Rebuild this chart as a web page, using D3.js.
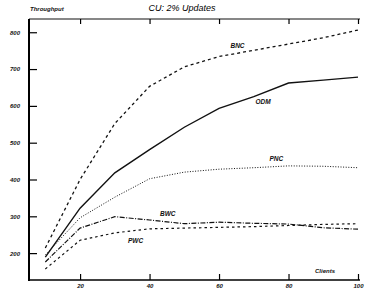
<!DOCTYPE html>
<html>
<head>
<meta charset="utf-8">
<script src="https://cdn.jsdelivr.net/npm/d3@7"></script>
<style>
  body { margin: 0; background: #fff; }
  svg { display: block; font-family: "Liberation Sans", Arial, sans-serif; }
  .tick text { font-size: 6px; font-weight: bold; font-style: italic; fill: #111; }
  .lbl { font-size: 6.5px; font-weight: bold; font-style: italic; fill: #111; }
</style>
</head>
<body>
<div class="viz"></div>
<script>
var clients = [10, 20, 30, 40, 50, 60, 70, 80, 90, 100];
var bnc = [214, 400, 552, 653, 706, 734, 751, 768, 785, 806];
var odm = [189, 322, 418, 481, 542, 593, 625, 662, 670, 678];
var pnc = [195, 296, 352, 402, 420, 428, 432, 437, 436, 432];
var bwc = [176, 268, 299, 290, 280, 284, 281, 279, 269, 265];
var pwc = [157, 235, 255, 266, 268, 270, 272, 275, 278, 280];
var yTicks = [200, 300, 400, 500, 600, 700, 800];
var xTicks = [20, 40, 60, 80, 100];

var series = [
  { name: "BNC", values: bnc, dash: "3,3", width: 1.3, lx: 63.3, lv: 757 },
  { name: "ODM", values: odm, dash: null, width: 1.4, lx: 70.5, lv: 605 },
  { name: "PNC", values: pnc, dash: "1,1.6", width: 1, lx: 74.5, lv: 450 },
  { name: "BWC", values: bwc, dash: "5,1.5,1,1.5", width: 1.2, lx: 43, lv: 300 },
  { name: "PWC", values: pwc, dash: "2.5,3", width: 1.2, lx: 33.8, lv: 227 }
];

var width = 365, height = 291;
var svg = d3.select(".viz").append("svg").attr("width", width).attr("height", height);

var x = d3.scaleLinear().domain([5.3, 100]).range([29, 358]);
var y = d3.scaleLinear().domain([127, 836]).range([280, 19]);

// frame lines
svg.append("line").attr("x1", 29).attr("x2", 360).attr("y1", 19).attr("y2", 19)
  .attr("stroke", "#111").attr("stroke-width", 1.2);

var yAxis = svg.append("g").attr("transform", "translate(29,0)")
  .call(d3.axisRight(y).tickValues(yTicks).tickSize(8).tickFormat(d3.format("d")));
yAxis.select(".domain").attr("stroke-width", 2).attr("d", "M0,19V281");
yAxis.selectAll(".tick line").attr("stroke-width", 1.2);
yAxis.selectAll(".tick text").attr("x", -9).attr("text-anchor", "end");

var xAxis = svg.append("g").attr("transform", "translate(0,280)")
  .call(d3.axisTop(x).tickValues(xTicks).tickSize(6));
xAxis.select(".domain").attr("stroke-width", 1.5).attr("d", "M29,0H360");
xAxis.selectAll(".tick line").attr("stroke-width", 1.2);
xAxis.selectAll(".tick text").attr("y", 8).attr("dy", "0");

var xTop = svg.append("g").attr("transform", "translate(0,19)")
  .call(d3.axisBottom(x).tickValues(xTicks).tickSize(5).tickFormat(""));
xTop.select(".domain").remove();
xTop.selectAll(".tick line").attr("stroke-width", 1.2);

var line = d3.line()
  .x(function (d, i) { return x(clients[i]); })
  .y(function (d) { return y(d); });

series.forEach(function (s) {
  svg.append("path")
    .attr("d", line(s.values))
    .attr("fill", "none")
    .attr("stroke", "#111")
    .attr("stroke-width", s.width)
    .attr("stroke-dasharray", s.dash);
  svg.append("text").attr("class", "lbl")
    .attr("x", x(s.lx)).attr("y", y(s.lv))
    .text(s.name);
});

svg.append("text").attr("class", "lbl").attr("x", 315).attr("y", 273).style("font-size", "6px").text("Clients");
svg.append("text").attr("class", "lbl").attr("x", 30).attr("y", 11).style("font-size", "6px").text("Throughput");
svg.append("text").attr("x", 182).attr("y", 11).attr("text-anchor", "middle")
  .style("font-size", "9px").style("font-style", "italic").text("CU: 2% Updates");
</script>
</body>
</html>
